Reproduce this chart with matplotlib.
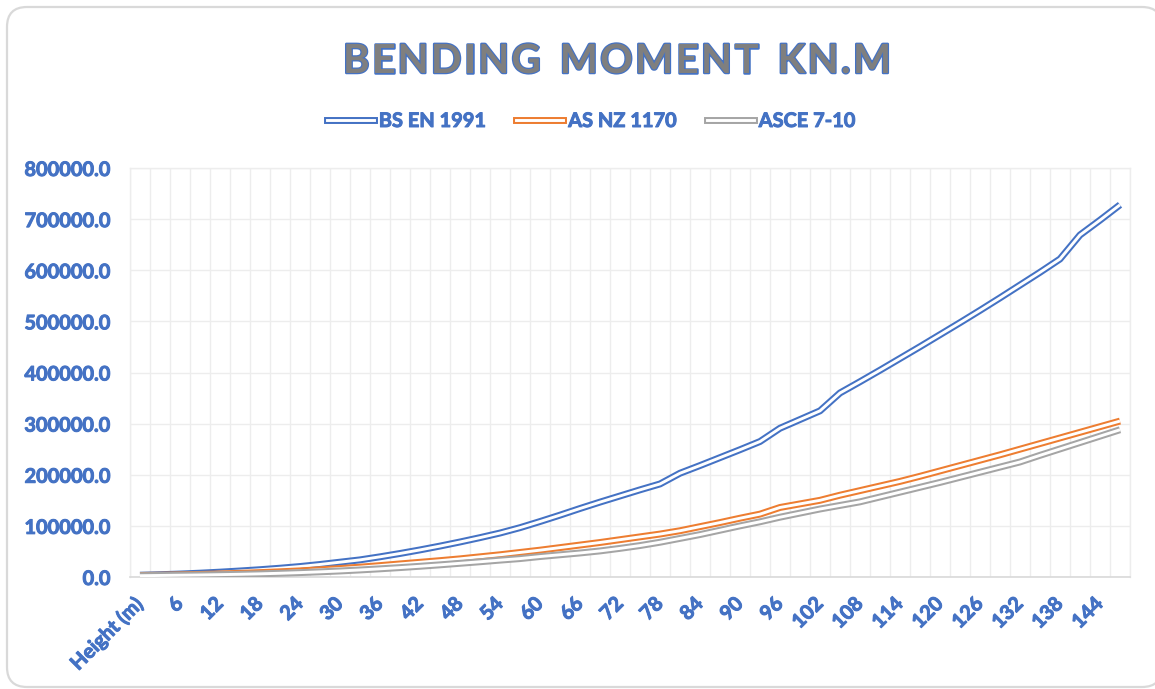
import matplotlib
matplotlib.use("Agg")
import matplotlib.pyplot as plt
import matplotlib.patheffects as pe
from matplotlib.patches import FancyBboxPatch
from matplotlib.lines import Line2D
from matplotlib.ticker import FixedLocator, FuncFormatter

# ---------------- data ----------------
categories = ["Height (m)", "3", "6", "9", "12", "15", "18", "21", "24", "27",
              "30", "33", "36", "39", "42", "45", "48", "51", "54", "57",
              "60", "63", "66", "69", "72", "75", "78", "81", "84", "87",
              "90", "93", "96", "99", "102", "105", "108", "111", "114", "117",
              "120", "123", "126", "129", "132", "135", "138", "141", "144", "147"]

bs_en_1991 = [3500, 4500, 5800, 7500, 9500, 11800, 14300, 17200, 20500, 24500,
              29000, 33500, 39500, 46000, 53000, 60500, 68500, 77000, 86000, 96500,
              108500, 121000, 134000, 146500, 158500, 170500, 182000, 203000, 218000, 233500,
              249000, 265000, 291000, 308000, 325000, 360000, 382000, 404500, 427500, 450500,
              474000, 497500, 521500, 546000, 571000, 596000, 622000, 669000, 698000, 728000]

as_nz_1170 = [3000, 3500, 4200, 5000, 6000, 7200, 8600, 10200, 12000, 14200,
              16600, 19300, 22300, 25600, 28800, 32000, 35500, 39500, 43500, 48000,
              52500, 57500, 62500, 67500, 73000, 78500, 84000, 90500, 98500, 106500,
              115000, 123000, 136000, 143000, 150000, 160000, 169000, 178000, 187000, 197000,
              207500, 218000, 228500, 239000, 250000, 261000, 272000, 283000, 294000, 305000]

asce_7_10 = [2500, 3000, 3500, 4000, 4600, 5300, 6200, 7300, 8600, 10100,
             11800, 13800, 16000, 18400, 21000, 23800, 26800, 29800, 33000, 36000,
             40000, 43500, 47000, 51000, 56000, 61500, 68000, 75500, 83000, 91500,
             100000, 108000, 117000, 125000, 133000, 140000, 147000, 156500, 166000, 175500,
             185000, 195000, 205000, 215000, 225000, 238000, 250500, 263000, 275500, 288000]

series_names = ["BS EN 1991", "AS NZ 1170", "ASCE 7-10"]
series_values = [bs_en_1991, as_nz_1170, asce_7_10]
series_colors = ["#4472C4", "#ED7D31", "#A5A5A5"]

y_ticks = [0, 100000, 200000, 300000, 400000, 500000, 600000, 700000, 800000]
title_text = "BENDING MOMENT KN.M"

# ---------------- style ----------------
FONT = "Lato"
TXT_BLUE = "#4472C4"
GRID = "#EDEDED"
W, H = 1155, 689
bolden = [pe.withStroke(linewidth=0.7, foreground=TXT_BLUE)]

fig = plt.figure(figsize=(W / 100, H / 100), dpi=100)
fig.patch.set_facecolor("white")

# background with rounded border (pixel coordinates)
bg = fig.add_axes([0, 0, 1, 1], zorder=-5)
bg.set_xlim(0, W)
bg.set_ylim(H, 0)
bg.axis("off")
bg.add_patch(FancyBboxPatch((7, 7), 1155, 680,
                            boxstyle="round,pad=0,rounding_size=20",
                            fc="white", ec="#D9D9D9", lw=1.6))

ax = fig.add_axes([130 / W, 1 - 577 / H, 1000 / W, 409 / H])
ax.set_facecolor("white")

x = list(range(len(categories)))
outer_lw, inner_lw = 5.0, 2.1
for name, vals, col in zip(series_names, series_values, series_colors):
    ax.plot(x, vals, color="white", lw=inner_lw, solid_joinstyle="round",
            solid_capstyle="butt",
            path_effects=[pe.Stroke(linewidth=outer_lw, foreground=col,
                                    joinstyle="round", capstyle="butt"),
                          pe.Normal()],
            zorder=3)

ax.set_xlim(-0.5, len(categories) - 0.5)
ax.set_ylim(0, 800000)

# grid
ax.xaxis.set_minor_locator(FixedLocator([i - 0.5 for i in range(len(categories) + 1)]))
ax.grid(which="minor", axis="x", color=GRID, lw=1.0, zorder=0)
ax.set_yticks(y_ticks)
ax.grid(which="major", axis="y", color=GRID, lw=1.0, zorder=0)
ax.set_axisbelow(True)

for s in ["left", "top", "right"]:
    ax.spines[s].set_color(GRID)
    ax.spines[s].set_linewidth(1.0)
ax.spines["bottom"].set_color("#D9D9D9")
ax.spines["bottom"].set_linewidth(1.2)

ax.yaxis.set_major_formatter(FuncFormatter(lambda v, p: f"{v:.1f}"))
ax.tick_params(axis="y", length=0, pad=14, labelsize=14.4, labelcolor=TXT_BLUE)
for lab in ax.get_yticklabels():
    lab.set_fontfamily(FONT)
    lab.set_fontweight("bold")
    lab.set_path_effects(bolden)

label_pos = x[::2]
ax.set_xticks(label_pos)
ax.set_xticklabels([categories[i] for i in label_pos], rotation=45, ha="right",
                   va="center", rotation_mode="anchor",
                   fontfamily=FONT, fontweight="bold", fontsize=14.4, color=TXT_BLUE)
for lab in ax.get_xticklabels():
    lab.set_path_effects(bolden)
ax.tick_params(axis="x", which="both", length=0, pad=17)

# title with expanded letter spacing (drawn glyph by glyph)
title_props = dict(fontsize=29, fontfamily=FONT, fontweight="bold", color="#7F7F7F",
                   path_effects=[pe.withStroke(linewidth=1.8, foreground="#4472C4")])
renderer = fig.canvas.get_renderer()
words = title_text.split(" ")
widths = []
for w in words:
    ww = []
    for ch in w:
        t = fig.text(0, 0, ch, **title_props)
        ww.append(t.get_window_extent(renderer).width)
        t.remove()
    widths.append(ww)
title_left, title_right, word_gap = 343, 891, 19
ink_total = sum(sum(ww) for ww in widths)
n_gaps = sum(len(w) - 1 for w in words)
letter_gap = (title_right - title_left - ink_total - word_gap * (len(words) - 1)) / n_gaps
xpos = title_left
baseline = 1 - 73 / H
for w, ww in zip(words, widths):
    for ch, cw in zip(w, ww):
        fig.text(xpos / W, baseline, ch, ha="left", va="baseline", **title_props)
        xpos += cw + letter_gap
    xpos += word_gap - letter_gap

# legend
handles = [Line2D([], [], color="white", lw=inner_lw,
                  path_effects=[pe.Stroke(linewidth=outer_lw, foreground=c), pe.Normal()])
           for c in series_colors]
leg = fig.legend(handles, series_names, loc="center", bbox_to_anchor=(591 / W, 1 - 121 / H),
                 ncol=3, frameon=False, handlelength=2.35, handletextpad=0.25,
                 columnspacing=1.5, labelcolor=TXT_BLUE,
                 prop={"family": FONT, "weight": "bold", "size": 14.4})
for t in leg.get_texts():
    t.set_path_effects(bolden)

fig.savefig("out.png", dpi=100, facecolor="white")
